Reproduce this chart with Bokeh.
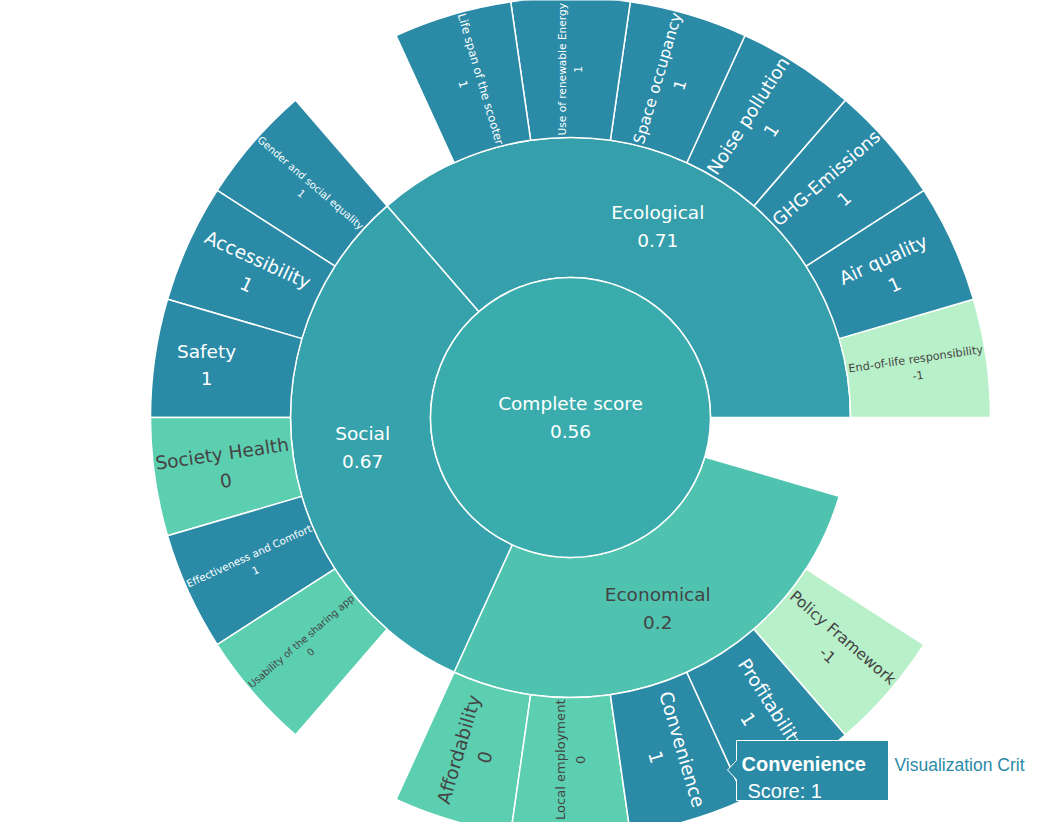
import math
from bokeh.plotting import figure
from bokeh.models import Range1d, ColumnDataSource
from bokeh.embed import file_html
from bokeh.resources import INLINE
from bokeh.core.properties import value

# ---------------- data ----------------
root_label = "Complete score"
root_score = 0.56
categories = ["Ecological", "Social", "Economical"]
category_scores = [0.71, 0.67, 0.2]
eco_criteria = ["End-of-life responsibility", "Air quality", "GHG-Emissions", "Noise pollution",
                "Space occupancy", "Use of renewable Energy", "Life span of the scooter"]
eco_scores = [-1, 1, 1, 1, 1, 1, 1]
social_criteria = ["Gender and social equality", "Accessibility", "Safety", "Society Health",
                   "Effectiveness and Comfort", "Usability of the sharing app"]
social_scores = [1, 1, 1, 0, 1, 0]
econ_criteria = ["Affordability", "Local employment", "Convenience", "Profitability", "Policy Framework"]
econ_scores = [0, 0, 1, 1, -1]
trace_name = "Visualization Crit"
hovered = "Convenience"

children = [(eco_criteria, eco_scores), (social_criteria, social_scores), (econ_criteria, econ_scores)]

# ---------------- layout / style ----------------
W, H = 1030, 822
CX, CY = 570, 417          # centre of the sunburst in picture pixels
RING = 140                 # ring thickness
BASE_FS = 18.5
FONT = "DejaVu Sans"
TWO_PI = 2 * math.pi

COLOR_STOPS = [(-1.0, (184, 240, 201)), (0.0, (92, 207, 177)), (0.5, (60, 176, 174)), (1.0, (43, 139, 167))]


def score_color(s):
    for (v0, c0), (v1, c1) in zip(COLOR_STOPS[:-1], COLOR_STOPS[1:]):
        if s <= v1 or v1 == COLOR_STOPS[-1][0]:
            t = max(0.0, min(1.0, (s - v0) / (v1 - v0)))
            rgb = [round(a + (b - a) * t) for a, b in zip(c0, c1)]
            return "#%02x%02x%02x" % tuple(rgb), rgb
    return None


def text_color(rgb):
    br = (rgb[0] * 299 + rgb[1] * 587 + rgb[2] * 114) / 1000
    return "#ffffff" if br < 140 else "#444444"


CW = {}
CW.update(dict(zip("abcdefghijklmnopqrstuvwxyz",
                   [.613, .635, .550, .635, .615, .352, .635, .634, .278, .278, .579, .278, .974,
                    .634, .612, .635, .635, .411, .521, .392, .634, .592, .818, .592, .592, .525])))
CW.update(dict(zip("ABCDEFGHIJKLMNOPQRSTUVWXYZ",
                   [.684, .686, .698, .770, .632, .575, .775, .752, .295, .295, .656, .557, .863,
                    .748, .787, .603, .787, .695, .635, .611, .732, .684, .989, .685, .611, .685])))
CW.update({" ": .318, "-": .361, ".": .318})
for d in "0123456789":
    CW[d] = .636


def em_width(s):
    return sum(CW.get(c, .6) for c in s)


def fmt(v):
    return ("%g" % v)


# ---------------- build nodes ----------------
cat_values = [1 + len(c[0]) for c in children]
root_value = 1 + sum(cat_values)
unit = TWO_PI / root_value

nodes = [dict(label=root_label, score=root_score, r0=0, r1=RING, a0=0.0, a1=TWO_PI)]
a = 0.0
for cat, cs, cv, (crit, crs) in zip(categories, category_scores, cat_values, children):
    nodes.append(dict(label=cat, score=cs, r0=RING, r1=2 * RING, a0=a, a1=a + cv * unit))
    b = a
    for lab, sc in zip(crit, crs):
        nodes.append(dict(label=lab, score=sc, r0=2 * RING, r1=3 * RING, a0=b, a1=b + unit))
        b += unit
    a += cv * unit

XMIN, XMAX, YMIN, YMAX = -CX, W - CX, CY - H, CY


def edge_distance(theta, margin=2.0):
    c, s = math.cos(theta), math.sin(theta)
    ts = []
    if c > 1e-9:
        ts.append((XMAX - margin) / c)
    if c < -1e-9:
        ts.append((XMIN + margin) / c)
    if s > 1e-9:
        ts.append((YMAX - margin) / s)
    if s < -1e-9:
        ts.append((YMIN + margin) / s)
    return min(ts)


def box_fits(cx, cy, rot, w, h, n, pad=1.5, r1cap=None):
    r0 = n["r0"] + pad if n["r0"] > 0 else 0
    r1 = n["r1"] - pad if r1cap is None else r1cap
    span = n["a1"] - n["a0"]
    full = span >= TWO_PI - 1e-9
    c, s = math.cos(rot), math.sin(rot)
    N = 16
    pts = []
    for i in range(N + 1):
        t = -0.5 + i / N
        pts += [(t * w, -h / 2), (t * w, h / 2), (-w / 2, t * h), (w / 2, t * h)]
    for u, v in pts:
        x = cx + u * c - v * s
        y = cy + u * s + v * c
        r = math.hypot(x, y)
        if r < r0 or r > r1:
            return False
        if not full:
            ang = (math.atan2(y, x) - n["a0"]) % TWO_PI
            m = pad / max(r, 1e-6)
            if ang < m or ang > span - m:
                return False
    return True


def inscribed_center(n):
    span = n["a1"] - n["a0"]
    if span >= TWO_PI - 1e-9:
        return 0.0, 0.0
    mid = (n["a0"] + n["a1"]) / 2
    hh = span / 2
    d = (n["r0"] + n["r1"]) / 2
    if hh < math.pi / 2:
        sh = math.sin(hh)
        ds = n["r1"] / (1 + sh)
        if ds * (1 - sh) >= n["r0"]:
            d = ds
    return d * math.cos(mid), d * math.sin(mid)


wx, wy, wr0, wr1, wa0, wa1, wcol = [], [], [], [], [], [], []
tx, ty, tang, tfs, ttxt, tcol = [], [], [], [], [], []
for n in nodes:
    col, rgb = score_color(n["score"])
    n["color"] = col
    txt = n["label"] + "\n" + fmt(n["score"])
    lines = txt.split("\n")
    emw = max(em_width(l) for l in lines)
    nl = len(lines)

    def dims(fs):
        return emw * fs, ((nl - 1) * 1.3 + 1.15) * fs

    w0, h0 = dims(BASE_FS)
    cx, cy = inscribed_center(n)
    if box_fits(cx, cy, 0.0, w0, h0, n):
        x, y, rot, fs = cx, cy, 0.0, BASE_FS
    else:
        mid = (n["a0"] + n["a1"]) / 2
        r_in = n["r0"] + 1.5
        r_out = min(n["r1"] - 1.5, edge_distance(mid))
        rm = (r_in + r_out) / 2
        x, y = rm * math.cos(mid), rm * math.sin(mid)
        lo, hi = 0.2, 1.0
        if box_fits(x, y, mid, *dims(BASE_FS), n, r1cap=r_out):
            lo = 1.0
        else:
            for _ in range(30):
                m = (lo + hi) / 2
                if box_fits(x, y, mid, *dims(BASE_FS * m), n, r1cap=r_out):
                    lo = m
                else:
                    hi = m
        fs = BASE_FS * lo
        deg = math.degrees(mid) % 360
        rot = mid - math.pi if 90 + 1e-6 < deg <= 270 + 1e-6 else mid
    tx.append(x); ty.append(y); tang.append(rot); tfs.append("%.2fpx" % fs)
    ttxt.append(txt); tcol.append(text_color(rgb))
    if n["r0"] > 0:
        wx.append(0); wy.append(0); wr0.append(n["r0"]); wr1.append(n["r1"])
        wa0.append(n["a0"]); wa1.append(n["a1"]); wcol.append(col)

# ---------------- figure ----------------
p = figure(width=W, height=H, output_backend="svg", toolbar_location=None,
           x_range=Range1d(XMIN, XMAX), y_range=Range1d(YMIN, YMAX),
           x_axis_type=None, y_axis_type=None, min_border=0)
p.outline_line_color = None
p.background_fill_color = "white"
p.border_fill_color = "white"

LINE_W = 1.5
p.annular_wedge(x="x", y="y", inner_radius="r0", outer_radius="r1", start_angle="a0", end_angle="a1",
                fill_color="c", line_color="white", line_width=LINE_W,
                source=ColumnDataSource(dict(x=wx, y=wy, r0=wr0, r1=wr1, a0=wa0, a1=wa1, c=wcol)))
p.circle(x=[0], y=[0], radius=RING, fill_color=nodes[0]["color"], line_color="white", line_width=LINE_W)

p.text(x="x", y="y", text="t", angle="a", text_font_size="fs", text_color="c",
       text_align="center", text_baseline="middle", text_line_height=1.3, text_font=value(FONT),
       source=ColumnDataSource(dict(x=tx, y=ty, a=tang, fs=tfs, t=ttxt, c=tcol)))

# ---------------- hover label (as shown in the reference) ----------------
hn = next(n for n in nodes if n["label"] == hovered)
hc = hn["color"]


def X(sx):
    return sx - CX


def Y(sy):
    return CY - sy


bx0, bx1, by0, by1 = 736, 888, 740, 800
poly = [(bx0, by0), (bx1, by0), (bx1, by1), (bx0, by1), (bx0, 779), (727, 769.5), (bx0, 760)]
p.patch([X(px) for px, py in poly], [Y(py) for px, py in poly], fill_color=hc, line_color="white",
        line_width=1)
p.text(x=[X(741)], y=[Y(763)], text=[hn["label"]], text_font=value("Liberation Sans"),
       text_font_style="bold", text_font_size="20px", text_color="white", text_baseline="alphabetic")
p.text(x=[X(747)], y=[Y(790)], text=["Score: " + fmt(hn["score"])], text_font=value("Liberation Sans"),
       text_font_size="20px", text_color="white", text_baseline="alphabetic")
p.text(x=[X(894)], y=[Y(764)], text=[trace_name], text_font=value("Liberation Sans"),
       text_font_size="17.5px", text_color=hc, text_baseline="alphabetic")

open("out.html", "w").write(file_html(p, INLINE))
